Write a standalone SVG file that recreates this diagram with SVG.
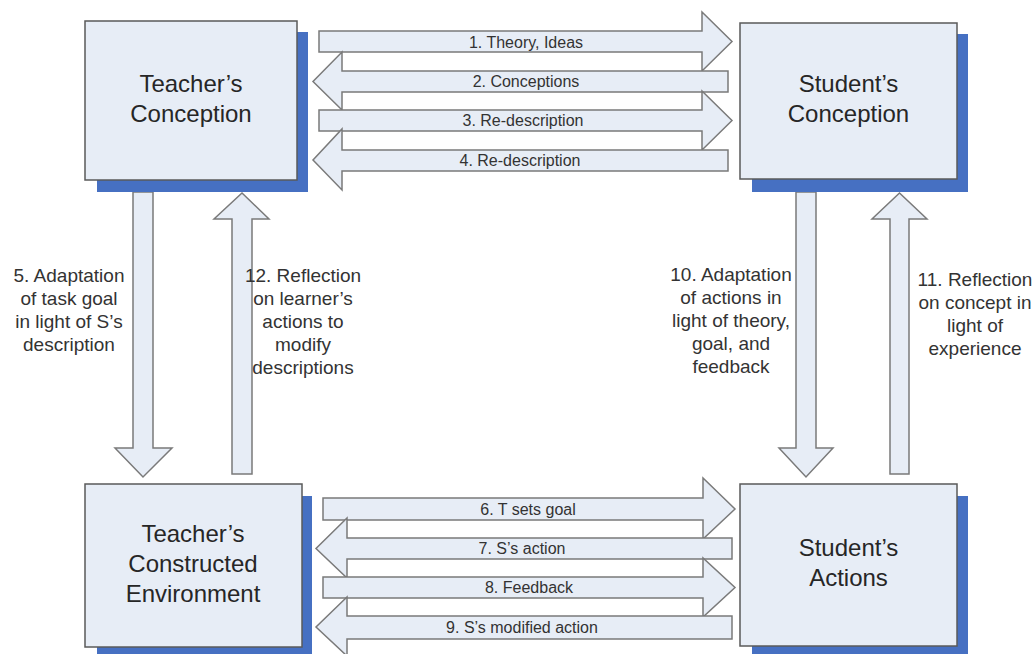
<svg xmlns="http://www.w3.org/2000/svg" width="1036" height="654" viewBox="0 0 1036 654">
<style>
.bg{fill:#ffffff}
.shadow{fill:#4670c2}
.box{fill:#e7edf6;stroke:#5a5a5a;stroke-width:1.5}
.arr{fill:#e7edf6;stroke:#7a7a7a;stroke-width:1.5;stroke-linejoin:miter}
.bt{font-family:"Liberation Sans",Arial,sans-serif;font-size:24px;fill:#262626;text-anchor:middle}
.at{font-family:"Liberation Sans",Arial,sans-serif;font-size:16px;fill:#333333;text-anchor:middle}
.vt{font-family:"Liberation Sans",Arial,sans-serif;font-size:19px;fill:#333333;text-anchor:middle}
</style>
<rect class="bg" x="0" y="0" width="1036" height="654"/>

<g id="connectors">
  <!-- top horizontal arrows -->
  <polygon class="arr" points="319,31 702,31 702,12 732,41.5 702,71 702,52 319,52"/>
  <polygon class="arr" points="728,71 342,71 342,52 313,81.5 342,110 342,92 728,92"/>
  <polygon class="arr" points="319,110 702,110 702,91 732,120.5 702,150 702,131 319,131"/>
  <polygon class="arr" points="728,150 342,150 342,129 313,160 342,190 342,171 728,171"/>
  <!-- bottom horizontal arrows -->
  <polygon class="arr" points="323,498 703,498 703,478 735,509 703,539 703,520 323,520"/>
  <polygon class="arr" points="732,538 347,538 347,518 316,548.5 347,578 347,559 732,559"/>
  <polygon class="arr" points="323,577 703,577 703,558 735,587.5 703,617 703,598 323,598"/>
  <polygon class="arr" points="732,616 347,616 347,597 316,627 347,656 347,639 732,639"/>
  <!-- vertical arrows left -->
  <polygon class="arr" points="133,192 153,192 153,448 172,448 143,477 115,448 133,448"/>
  <polygon class="arr" points="232,474 232,219 214,219 242,193 269,219 252,219 252,474"/>
  <!-- vertical arrows right -->
  <polygon class="arr" points="796,192 816,192 816,448 833,448 806,477 779,448 796,448"/>
  <polygon class="arr" points="890,474 890,219 872,219 899.5,193 927,219 909,219 909,474"/>

  <text class="at" x="526" y="47.5">1. Theory, Ideas</text>
  <text class="at" x="526" y="87">2. Conceptions</text>
  <text class="at" x="523" y="126">3. Re-description</text>
  <text class="at" x="520" y="166">4. Re-description</text>
  <text class="at" x="528" y="514.5">6. T sets goal</text>
  <text class="at" x="522" y="554">7. S’s action</text>
  <text class="at" x="529" y="593">8. Feedback</text>
  <text class="at" x="522" y="632.5">9. S’s modified action</text>

  <text class="vt" x="69" y="282">5. Adaptation</text>
  <text class="vt" x="69" y="305">of task goal</text>
  <text class="vt" x="69" y="328">in light of S’s</text>
  <text class="vt" x="69" y="351">description</text>

  <text class="vt" x="303" y="282">12. Reflection</text>
  <text class="vt" x="303" y="305">on learner’s</text>
  <text class="vt" x="303" y="328">actions to</text>
  <text class="vt" x="303" y="351">modify</text>
  <text class="vt" x="303" y="374">descriptions</text>

  <text class="vt" x="731" y="281">10. Adaptation</text>
  <text class="vt" x="731" y="304">of actions in</text>
  <text class="vt" x="731" y="327">light of theory,</text>
  <text class="vt" x="731" y="350">goal, and</text>
  <text class="vt" x="731" y="373">feedback</text>

  <text class="vt" x="975" y="286">11. Reflection</text>
  <text class="vt" x="975" y="309">on concept in</text>
  <text class="vt" x="975" y="332">light of</text>
  <text class="vt" x="975" y="355">experience</text>
</g>

<g id="teacher-conception">
  <rect class="shadow" x="97" y="32" width="211" height="160"/>
  <rect class="box" x="85" y="21" width="212" height="159"/>
  <text class="bt" x="191" y="92">Teacher’s</text>
  <text class="bt" x="191" y="122">Conception</text>
</g>

<g id="student-conception">
  <rect class="shadow" x="752" y="34" width="216" height="158"/>
  <rect class="box" x="740" y="23" width="217" height="156"/>
  <text class="bt" x="848.5" y="92">Student’s</text>
  <text class="bt" x="848.5" y="122">Conception</text>
</g>

<g id="teacher-environment">
  <rect class="shadow" x="97" y="496" width="215" height="170"/>
  <rect class="box" x="85" y="484" width="217" height="163"/>
  <text class="bt" x="193" y="542">Teacher’s</text>
  <text class="bt" x="193" y="572">Constructed</text>
  <text class="bt" x="193" y="602">Environment</text>
</g>

<g id="student-actions">
  <rect class="shadow" x="752" y="496" width="216" height="170"/>
  <rect class="box" x="740" y="484" width="217" height="162"/>
  <text class="bt" x="848.5" y="556">Student’s</text>
  <text class="bt" x="848.5" y="586">Actions</text>
</g>
</svg>
